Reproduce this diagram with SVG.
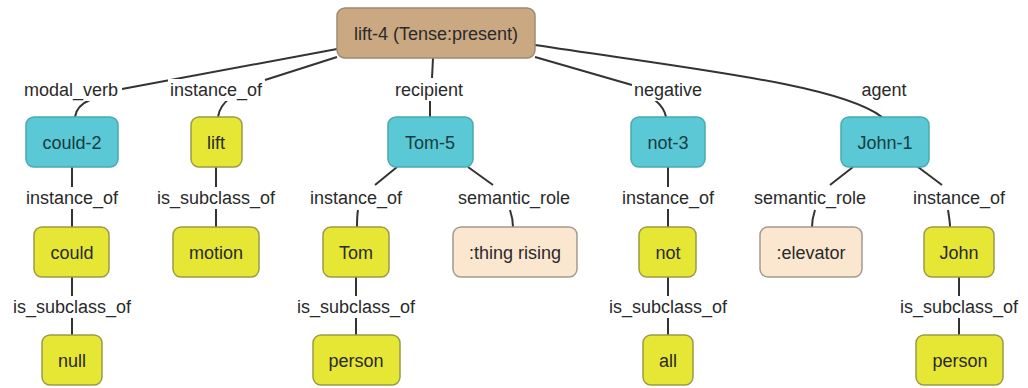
<svg xmlns="http://www.w3.org/2000/svg" width="1028" height="388" viewBox="0 0 1028 388">
<style>
.n rect{stroke-width:1.5}
.root rect{fill:#c9a882;stroke:#9e8a72}
.inst rect{fill:#5bc8d6;stroke:#4aa9b4}
.cls rect{fill:#e6e635;stroke:#9c9a4a}
.sem rect{fill:#fbe7cf;stroke:#a39a90}
.n text{font-family:"Liberation Sans",Arial,sans-serif;font-size:18px;fill:#2a2a2a;text-anchor:middle}
.inst text{fill:#173c40}
.e path{fill:none;stroke:#333;stroke-width:2}
.e rect{fill:#fff}
.e text{font-family:"Liberation Sans",Arial,sans-serif;font-size:18px;fill:#2a2a2a;text-anchor:middle}
</style>
<rect width="1028" height="388" fill="#fff"/>
<g id="connectors" class="e">
<path d="M337,49 L122,89 M90,100 C80,104 76,110 75,117"/>
<path d="M337,57 L265,80 M230,98 C222,104 219,110 218,117"/>
<path d="M433,58 L432,78 M430,100 L430,117"/>
<path d="M535,57 L632,85 M655,100 C662,106 665,111 666,117"/>
<path d="M535,45 C700,70 840,85 882,117"/>
<path d="M72,167 L72,227 M72,277 L72,335"/>
<path d="M216,167 L216,227"/>
<path d="M397,167 L375,185 M358,210 C357,216 357,222 357,227"/>
<path d="M468,167 L493,185 M510,210 C512,216 513,222 513,227"/>
<path d="M668,167 L668,227 M668,277 L668,335"/>
<path d="M356,277 L356,335"/>
<path d="M853,167 L830,185 M815,210 C813,216 812,222 812,227"/>
<path d="M918,167 L942,185 M948,210 C949,216 950,222 950,227"/>
<path d="M959,277 L959,335"/>
<g>
<rect x="20" y="79" width="102" height="22"/><text x="71" y="96">modal_verb</text>
<rect x="168" y="79" width="96" height="22"/><text x="216" y="96">instance_of</text>
<rect x="393" y="79" width="72" height="22"/><text x="429" y="96">recipient</text>
<rect x="632" y="79" width="72" height="22"/><text x="668" y="96">negative</text>
<rect x="861" y="79" width="46" height="22"/><text x="884" y="96">agent</text>
<rect x="24" y="187" width="96" height="22"/><text x="72" y="204">instance_of</text>
<rect x="154" y="187" width="124" height="22"/><text x="216" y="204">is_subclass_of</text>
<rect x="308" y="187" width="96" height="22"/><text x="356" y="204">instance_of</text>
<rect x="456" y="187" width="116" height="22"/><text x="514" y="204">semantic_role</text>
<rect x="620" y="187" width="96" height="22"/><text x="668" y="204">instance_of</text>
<rect x="752" y="187" width="116" height="22"/><text x="810" y="204">semantic_role</text>
<rect x="911" y="187" width="96" height="22"/><text x="959" y="204">instance_of</text>
<rect x="10" y="296" width="124" height="22"/><text x="72" y="313">is_subclass_of</text>
<rect x="294" y="296" width="124" height="22"/><text x="356" y="313">is_subclass_of</text>
<rect x="606" y="296" width="124" height="22"/><text x="668" y="313">is_subclass_of</text>
<rect x="897" y="296" width="124" height="22"/><text x="959" y="313">is_subclass_of</text>
</g>
</g>
<g id="lift-4" class="n root"><rect x="337" y="8" width="198" height="50" rx="8"/><text x="436" y="40">lift-4 (Tense:present)</text></g>
<g id="could-2" class="n inst"><rect x="26" y="117" width="92" height="50" rx="8"/><text x="72" y="149">could-2</text></g>
<g id="lift" class="n cls"><rect x="191" y="117" width="51" height="50" rx="8"/><text x="216" y="149">lift</text></g>
<g id="Tom-5" class="n inst"><rect x="388" y="117" width="85" height="50" rx="8"/><text x="430" y="149">Tom-5</text></g>
<g id="not-3" class="n inst"><rect x="631" y="117" width="74" height="50" rx="8"/><text x="668" y="149">not-3</text></g>
<g id="John-1" class="n inst"><rect x="841" y="117" width="88" height="50" rx="8"/><text x="885" y="149">John-1</text></g>
<g id="could" class="n cls"><rect x="34" y="227" width="75" height="50" rx="8"/><text x="72" y="259">could</text></g>
<g id="motion" class="n cls"><rect x="173" y="227" width="86" height="50" rx="8"/><text x="216" y="259">motion</text></g>
<g id="Tom" class="n cls"><rect x="323" y="227" width="66" height="50" rx="8"/><text x="356" y="259">Tom</text></g>
<g id="thing-rising" class="n sem"><rect x="453" y="227" width="124" height="50" rx="8"/><text x="515" y="259">:thing rising</text></g>
<g id="not" class="n cls"><rect x="639" y="227" width="57" height="50" rx="8"/><text x="668" y="259">not</text></g>
<g id="elevator" class="n sem"><rect x="760" y="227" width="102" height="50" rx="8"/><text x="811" y="259">:elevator</text></g>
<g id="John" class="n cls"><rect x="924" y="227" width="70" height="50" rx="8"/><text x="959" y="259">John</text></g>
<g id="null" class="n cls"><rect x="42" y="335" width="60" height="50" rx="8"/><text x="72" y="367">null</text></g>
<g id="person-tom" class="n cls"><rect x="313" y="335" width="87" height="50" rx="8"/><text x="356" y="367">person</text></g>
<g id="all" class="n cls"><rect x="643" y="335" width="50" height="50" rx="8"/><text x="668" y="367">all</text></g>
<g id="person-john" class="n cls"><rect x="916" y="335" width="87" height="50" rx="8"/><text x="960" y="367">person</text></g>
</svg>
